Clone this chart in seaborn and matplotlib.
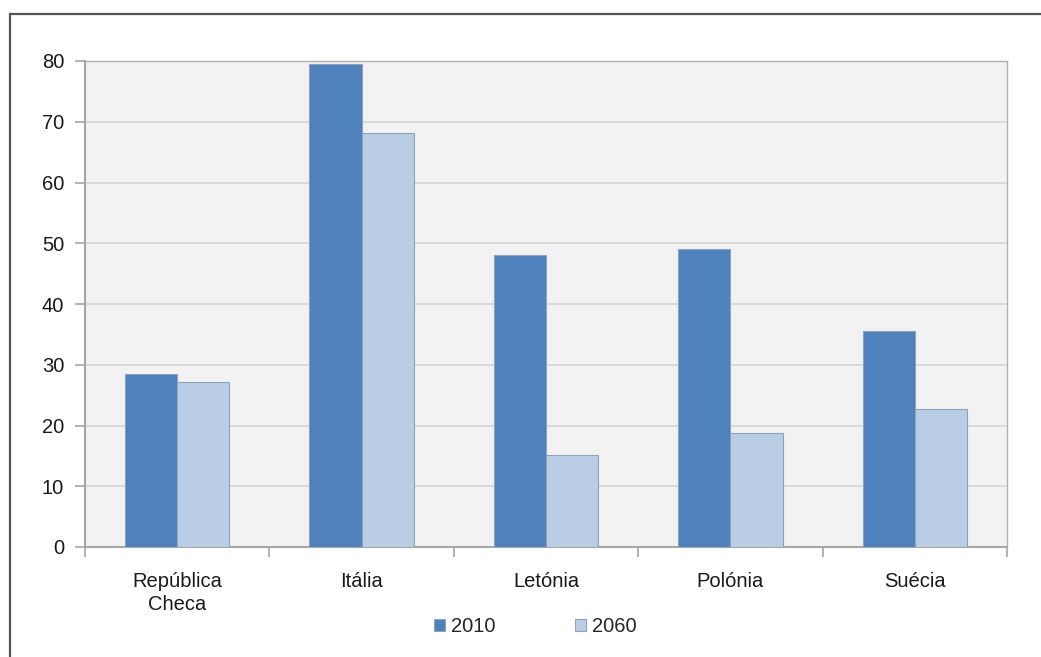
import matplotlib
matplotlib.use("Agg")
import matplotlib.pyplot as plt
import matplotlib.patches as mpatches
from matplotlib import font_manager
import seaborn as sns
import pandas as pd

# Data
countries = ["República\nCheca", "Itália", "Letónia", "Polónia", "Suécia"]
years = ["2010", "2060"]
values_2010 = [28.5, 79.5, 48.1, 49.0, 35.5]
values_2060 = [27.1, 68.2, 15.1, 18.8, 22.7]
y_ticks = [0, 10, 20, 30, 40, 50, 60, 70, 80]

df = pd.DataFrame({
    "país": countries * 2,
    "ano": [years[0]] * len(countries) + [years[1]] * len(countries),
    "valor": values_2010 + values_2060,
})

sns.set_style("white")
names = {f.name for f in font_manager.fontManager.ttflist}
family = "Liberation Sans Narrow" if "Liberation Sans Narrow" in names else "Liberation Sans"
plt.rcParams["font.family"] = [family, "DejaVu Sans"]

FS = 14.5
fig = plt.figure(figsize=(10.41, 6.57), dpi=100)
W, H = 1041, 657
ax = fig.add_axes([85 / W, 1 - 547 / H, (1007 - 85) / W, (547 - 61) / H])

palette = {"2010": "#4F81BD", "2060": "#B9CDE5"}
sns.barplot(data=df, x="país", y="valor", hue="ano", palette=palette,
            width=0.567, edgecolor="#8EA2BA", linewidth=0.8, saturation=1,
            ax=ax, zorder=3, legend=True)

ax.set_facecolor("#F2F2F2")
ax.set_ylim(0, 80)
ax.set_xlim(-0.5, len(countries) - 0.5)
ax.set_yticks(y_ticks)
ax.set_yticklabels([str(v) for v in y_ticks])
ax.yaxis.grid(True, color="#D4D4D4", linewidth=1.2, zorder=0)
ax.set_axisbelow(True)
ax.set_xlabel("")
ax.set_ylabel("")

for side in ["left", "bottom"]:
    ax.spines[side].set_color("#A6A6A6")
    ax.spines[side].set_linewidth(1.5)
for side in ["top", "right"]:
    ax.spines[side].set_color("#B0B0B0")
    ax.spines[side].set_linewidth(1.0)

ax.tick_params(axis="y", length=7, width=1.2, color="#A6A6A6", pad=8,
               labelsize=FS, labelcolor="#1a1a1a", direction="out", left=True)
# category boundaries carry the x tick marks
ax.set_xticks([i + 0.5 for i in range(-1, len(countries))], minor=True)
ax.tick_params(axis="x", which="minor", length=7, width=1.2, color="#A6A6A6",
               direction="out", bottom=True)
ax.tick_params(axis="x", which="major", length=0, pad=18, labelsize=FS,
               labelcolor="#1a1a1a")
for lbl in ax.get_xticklabels():
    lbl.set_linespacing(1.25)

handles, labels = ax.get_legend_handles_labels()
ax.legend(handles, labels, loc="center", bbox_to_anchor=(535 / W, 1 - 627 / H),
          bbox_transform=fig.transFigure, ncol=2, frameon=False,
          fontsize=FS, handlelength=0.55, handleheight=0.55, handletextpad=0.3,
          columnspacing=3.95)

# outer chart frame
fig.patches.append(mpatches.Rectangle((10 / W, -0.1), 1.2, 1 - 14 / H + 0.1,
                                      transform=fig.transFigure, fill=False,
                                      edgecolor="#555555", linewidth=1.6))

fig.savefig("out.png", dpi=100)
